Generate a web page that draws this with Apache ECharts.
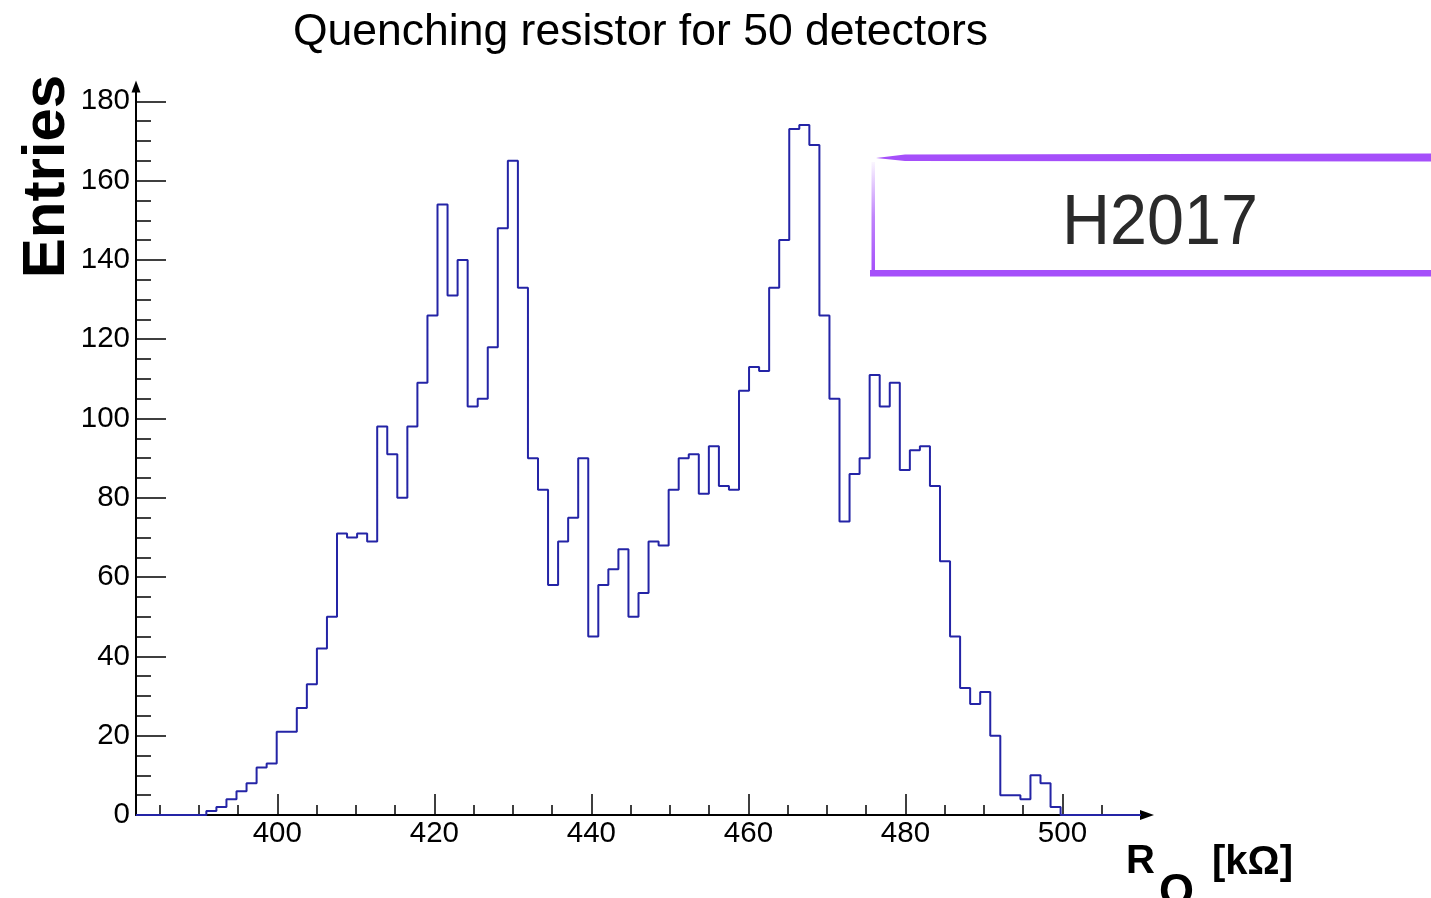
<!DOCTYPE html>
<html>
<head>
<meta charset="utf-8">
<script src="https://cdn.jsdelivr.net/npm/echarts@6/dist/echarts.min.js"></script>
<style>
  html, body { margin: 0; padding: 0; background: #ffffff; }
  #chart { width: 1431px; height: 898px; }
</style>
</head>
<body>
<div id="chart"></div>
<script>
// Quenching resistor histogram: 100 equal bins spanning 382–510 kΩ
const xRange = [382, 510];
const binCount = 100;
const counts = [
  0, 0, 0, 0, 0, 0, 0,
  1, 2, 4, 6, 8, 12, 13,
  21, 21, 27, 33, 42, 50,
  71, 70, 71, 69, 98, 91, 80, 98, 109, 126,
  154, 131, 140, 103, 105, 118, 148, 165, 133, 90,
  82, 58, 69, 75, 90, 45, 58, 62, 67, 50,
  56, 69, 68, 82, 90, 91, 81, 93, 83, 82,
  107, 113, 112, 133, 145, 173, 174, 169, 126, 105,
  74, 86, 90, 111, 103, 109, 87, 92, 93, 83,
  64, 45, 32, 28, 31, 20, 5, 5, 4, 10,
  8, 2, 0, 0, 0, 0, 0, 0, 0, 0
];

// Axis ticks
const xMajorTicks = [400, 420, 440, 460, 480, 500];
const xMinorTicks = [385, 390, 395, 405, 410, 415, 425, 430, 435, 445, 450, 455,
                     465, 470, 475, 485, 490, 495, 505];
const yMajorTicks = [0, 20, 40, 60, 80, 100, 120, 140, 160, 180];
const yMinorTicks = [5, 10, 15, 25, 30, 35, 45, 50, 55, 65, 70, 75, 85, 90, 95,
                     105, 110, 115, 125, 130, 135, 145, 150, 155, 165, 170, 175];

const titleText = 'Quenching resistor for 50 detectors';
const yTitle = 'Entries';
const runLabel = 'H2017';

// Step outline: each bin's left edge carries its count, plus the closing right edge
const binWidth = (xRange[1] - xRange[0]) / binCount;
const outline = counts.map((c, i) => [xRange[0] + i * binWidth, c]);
outline.push([xRange[1], counts[counts.length - 1]]);

const yMax = 182.7;
const FONT = '"Liberation Sans", Arial, Helvetica, sans-serif';
const purple = '#a54ffa';

const chart = echarts.init(document.getElementById('chart'), null, { renderer: 'canvas' });

const axisCommon = {
  type: 'value',
  splitLine: { show: false },
  minorTick: { show: false },
  minorSplitLine: { show: false }
};

chart.setOption({
  animation: false,
  backgroundColor: '#ffffff',
  grid: {
    left: 136, right: 290, top: 90.6, bottom: 83,
    containLabel: false, outerBoundsMode: 'none'
  },
  xAxis: [
    Object.assign({}, axisCommon, {
      position: 'bottom',
      min: xRange[0], max: xRange[1],
      axisLine: {
        show: true, onZero: false,
        lineStyle: { color: '#000', width: 2 },
        symbol: ['none', 'triangle'], symbolSize: [10, 14], symbolOffset: [0, 6]
      },
      axisTick: {
        show: true, inside: true, length: 21,
        lineStyle: { color: '#000', width: 1.5 },
        customValues: xMajorTicks
      },
      axisLabel: {
        show: true, margin: 4, color: '#000', fontSize: 29.5, fontFamily: FONT,
        customValues: xMajorTicks
      }
    }),
    Object.assign({}, axisCommon, {
      position: 'bottom',
      min: xRange[0], max: xRange[1],
      axisLine: { show: false, onZero: false },
      axisTick: {
        show: true, inside: true, length: 10,
        lineStyle: { color: '#000', width: 1.5 },
        customValues: xMinorTicks
      },
      axisLabel: { show: false }
    })
  ],
  yAxis: [
    Object.assign({}, axisCommon, {
      position: 'left',
      min: 0, max: yMax,
      axisLine: {
        show: true, onZero: false,
        lineStyle: { color: '#000', width: 2 },
        symbol: ['none', 'triangle'], symbolSize: [9, 12], symbolOffset: [0, 4]
      },
      axisTick: {
        show: true, inside: true, length: 30,
        lineStyle: { color: '#000', width: 1.5 },
        customValues: yMajorTicks
      },
      axisLabel: {
        show: true, margin: 6, color: '#000', fontSize: 29.5, fontFamily: FONT,
        customValues: yMajorTicks
      }
    }),
    Object.assign({}, axisCommon, {
      position: 'left',
      min: 0, max: yMax,
      axisLine: { show: false, onZero: false },
      axisTick: {
        show: true, inside: true, length: 15,
        lineStyle: { color: '#000', width: 1.5 },
        customValues: yMinorTicks
      },
      axisLabel: { show: false }
    })
  ],
  series: [{
    type: 'line',
    xAxisIndex: 0,
    yAxisIndex: 0,
    step: 'end',
    data: outline,
    showSymbol: false,
    symbol: 'none',
    clip: false,
    lineStyle: { color: '#2424a6', width: 2 },
    z: 5
  }],
  graphic: [
    // Title
    {
      type: 'text', x: 293, y: 32.5, z: 10,
      style: { text: titleText, fill: '#000', font: '44.5px ' + FONT, align: 'left', verticalAlign: 'middle' }
    },
    // Y axis title, reading bottom to top
    {
      type: 'text', x: 47, y: 176.5, rotation: Math.PI / 2, z: 10,
      style: { text: yTitle, fill: '#000', font: 'bold 60px ' + FONT, align: 'center', verticalAlign: 'middle' }
    },
    // X axis title: R with subscript Q, then unit
    {
      type: 'text', x: 1126, y: 862, z: 10,
      style: { text: 'R', fill: '#000', font: 'bold 40px ' + FONT, align: 'left', verticalAlign: 'middle' }
    },
    {
      type: 'text', x: 1159, y: 893, z: 10,
      style: { text: 'Q', fill: '#000', font: 'bold 45px ' + FONT, align: 'left', verticalAlign: 'middle' }
    },
    {
      type: 'text', x: 1212, y: 863, z: 10,
      style: { text: '[kΩ]', fill: '#000', font: 'bold 40px ' + FONT, align: 'left', verticalAlign: 'middle' }
    },
    // Marker-style frame around the run label
    {
      type: 'polygon', z: 8,
      shape: { points: [[876, 158], [905, 154.5], [1431, 153.5], [1431, 161.5], [905, 161]] },
      style: { fill: purple }
    },
    {
      type: 'rect', z: 8,
      shape: { x: 871.5, y: 162, width: 3.5, height: 110 },
      style: {
        fill: new echarts.graphic.LinearGradient(0, 0, 0, 1, [
          { offset: 0, color: 'rgba(165,79,250,0.05)' },
          { offset: 0.5, color: 'rgba(165,79,250,0.7)' },
          { offset: 1, color: 'rgba(165,79,250,1)' }
        ])
      }
    },
    {
      type: 'rect', z: 8,
      shape: { x: 870, y: 270, width: 561, height: 6.5 },
      style: { fill: purple }
    },
    {
      type: 'text', x: 1160, y: 225, scaleX: 0.95, z: 10,
      style: { text: runLabel, fill: '#2a2a2a', font: '70px ' + FONT, align: 'center', verticalAlign: 'middle' }
    }
  ]
});
</script>
</body>
</html>
